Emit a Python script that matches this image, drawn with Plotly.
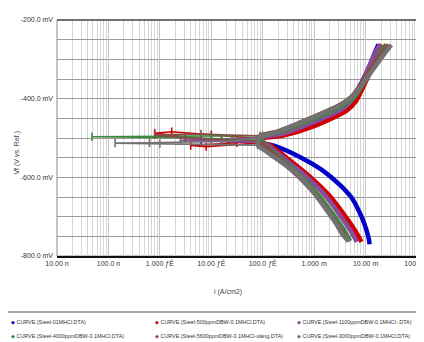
import plotly.graph_objects as go

# ---------------- data (E in V vs Ref, i in A/cm2) ----------------
curve_names = [
    "CURVE (Steel-01MHCl.DTA)",
    "CURVE (Steel-500ppmDBW-0.1MHCl.DTA)",
    "CURVE (Steel-1100ppmDBW-0.1MHCl-.DTA)",
    "CURVE (Steel-4000ppmDBW-0.1MHCl.DTA)",
    "CURVE (Steel-5600ppmDBW-0.1MHCl-ulang.DTA)",
    "CURVE (Steel-3000ppmDBW-0.1MHCl.DTA)",
]
curve_colors = ["#0000c8", "#d00000", "#8a4b9a", "#3d8a3d", "#8b4a4a", "#727272"]

# main branches (cathodic bottom -> Ecorr -> anodic top)
blue_i = [1.20e-2, 1.15e-2, 9.55e-3, 7.59e-3, 5.37e-3, 3.16e-3, 1.41e-3, 5.25e-4, 1.70e-4, 1.0e-4,
          1.0e-4, 2.51e-4, 8.91e-4, 3.55e-3, 5.62e-3, 8.51e-3, 1.17e-2, 1.55e-2, 1.78e-2]
blue_E = [-0.770, -0.755, -0.719, -0.688, -0.652, -0.619, -0.581, -0.548, -0.520, -0.512,
          -0.500, -0.490, -0.463, -0.425, -0.400, -0.357, -0.320, -0.280, -0.262]

red_i = [8.32e-3, 6.17e-3, 3.89e-3, 2.00e-3, 8.91e-4, 3.31e-4, 1.38e-4, 1.0e-4,
         1.0e-4, 2.51e-4, 1.0e-3, 4.17e-3, 6.61e-3, 1.0e-2, 1.35e-2, 1.74e-2, 2.04e-2]
red_E = [-0.764, -0.734, -0.696, -0.647, -0.602, -0.556, -0.518, -0.512,
         -0.502, -0.494, -0.470, -0.432, -0.405, -0.358, -0.320, -0.280, -0.262]

purple_i = [6.76e-3, 5.01e-3, 3.16e-3, 1.66e-3, 7.59e-4, 2.82e-4, 1.26e-4, 1.0e-4,
            1.0e-4, 2.51e-4, 8.91e-4, 3.72e-3, 5.89e-3, 8.71e-3, 1.17e-2, 1.58e-2, 1.91e-2]
purple_E = [-0.764, -0.734, -0.696, -0.647, -0.602, -0.556, -0.518, -0.512,
            -0.499, -0.489, -0.462, -0.424, -0.398, -0.355, -0.318, -0.280, -0.262]

green_i = [5.01e-3, 3.80e-3, 2.40e-3, 1.26e-3, 6.03e-4, 2.40e-4, 1.12e-4, 8.91e-5,
           1.0e-4, 2.24e-4, 7.94e-4, 3.55e-3, 6.31e-3, 1.0e-2, 1.45e-2, 2.00e-2, 2.51e-2]
green_E = [-0.762, -0.734, -0.696, -0.647, -0.602, -0.556, -0.518, -0.506,
           -0.494, -0.484, -0.456, -0.418, -0.393, -0.352, -0.316, -0.280, -0.262]

brown_i = [4.47e-3, 3.31e-3, 2.09e-3, 1.12e-3, 5.37e-4, 2.19e-4, 1.05e-4, 7.94e-5,
           8.91e-5, 2.00e-4, 7.08e-4, 3.16e-3, 5.62e-3, 9.33e-3, 1.41e-2, 2.19e-2, 2.82e-2]
brown_E = [-0.760, -0.734, -0.696, -0.647, -0.602, -0.556, -0.518, -0.508,
           -0.495, -0.483, -0.454, -0.416, -0.392, -0.352, -0.316, -0.280, -0.263]

gray_i = [4.68e-3, 3.55e-3, 2.51e-3, 1.58e-3, 1.0e-3, 5.25e-4, 2.51e-4, 1.0e-4, 7.94e-5,
          8.91e-5, 2.00e-4, 7.08e-4, 3.16e-3, 5.89e-3, 1.0e-2, 1.58e-2, 2.51e-2, 3.16e-2]
gray_E = [-0.762, -0.745, -0.712, -0.675, -0.640, -0.598, -0.565, -0.528, -0.518,
          -0.497, -0.484, -0.455, -0.417, -0.392, -0.352, -0.316, -0.280, -0.263]

# scattered points around the corrosion potential
blue_tip_i = [1.0e-4, 2.51e-5, 6.31e-6, 1.58e-5, 1.0e-4]
blue_tip_E = [-0.512, -0.509, -0.507, -0.504, -0.500]

red_tip_i = [1.0e-4, 7.94e-6, 3.98e-6, 3.16e-5, 7.94e-7, 1.70e-6, 1.0e-5, 1.0e-4]
red_tip_E = [-0.512, -0.522, -0.519, -0.512, -0.488, -0.484, -0.492, -0.502]

purple_tip_i = [1.0e-4, 1.58e-5, 2.51e-6, 1.0e-5, 1.0e-4]
purple_tip_E = [-0.512, -0.508, -0.506, -0.503, -0.499]

green_tip_i = [8.91e-5, 3.16e-6, 4.79e-8, 1.0e-5, 1.0e-4]
green_tip_E = [-0.506, -0.499, -0.497, -0.496, -0.494]

brown_tip_i = [7.94e-5, 3.16e-6, 7.94e-7, 6.31e-6, 8.91e-5]
brown_tip_E = [-0.508, -0.500, -0.492, -0.490, -0.495]

gray_tip_i = [7.94e-5, 1.0e-6, 1.35e-7, 6.31e-7, 2.51e-5, 8.91e-5]
gray_tip_E = [-0.518, -0.514, -0.513, -0.512, -0.508, -0.497]

x_tick_vals = [1e-8, 1e-7, 1e-6, 1e-5, 1e-4, 1e-3, 1e-2, 1e-1]
x_tick_text = ["10.00 n", "100.0 n", "1.000 ƒÊ", "10.00 ƒÊ", "100.0 ƒÊ", "1.000 m", "10.00 m", "100.0 m"]
y_tick_vals = [-0.8, -0.6, -0.4, -0.2]
y_tick_text = ["-800.0 mV", "-600.0 mV", "-400.0 mV", "-200.0 mV"]

# ---------------- figure ----------------
mains = [(blue_i, blue_E), (red_i, red_E), (purple_i, purple_E),
         (green_i, green_E), (brown_i, brown_E), (gray_i, gray_E)]
tips = [(blue_tip_i, blue_tip_E), (red_tip_i, red_tip_E), (purple_tip_i, purple_tip_E),
        (green_tip_i, green_tip_E), (brown_tip_i, brown_tip_E), (gray_tip_i, gray_tip_E)]

FONT = "Liberation Sans Narrow, Arial Narrow, Liberation Sans, Arial, sans-serif"

fig = go.Figure()
for name, col, (xi, ye), (ti, te) in zip(curve_names, curve_colors, mains, tips):
    fig.add_trace(go.Scatter(x=ti, y=te, mode="lines+markers", name=name, legendgroup=name,
                             showlegend=False,
                             line=dict(color=col, width=1.6),
                             marker=dict(symbol="line-ns", size=6,
                                         line=dict(color=col, width=1.6))))
    fig.add_trace(go.Scatter(x=xi, y=ye, mode="lines", name=name, legendgroup=name,
                             showlegend=False,
                             line=dict(color=col, width=4.5, shape="spline", smoothing=0.6)))

minor_x = [k * 10.0 ** n for n in range(-8, -1) for k in range(2, 10)]

fig.update_xaxes(type="log", range=[-8, -1], tickmode="array", tickvals=x_tick_vals,
                 ticktext=x_tick_text, showgrid=True, gridcolor="#c4c4c4", gridwidth=1,
                 minor=dict(tickmode="array", tickvals=minor_x, showgrid=True,
                            gridcolor="#d6d6d6", gridwidth=1),
                 showline=True, linecolor="#111111", linewidth=2, zeroline=False,
                 automargin=False,
                 ticks="", tickfont=dict(family=FONT, size=7, color="#333333"))
fig.update_yaxes(range=[-0.8, -0.2], tickmode="array", tickvals=y_tick_vals,
                 ticktext=y_tick_text, showgrid=True, gridcolor="#9a9a9a", gridwidth=1,
                 minor=dict(dtick=0.05, showgrid=True, gridcolor="#9a9a9a", gridwidth=1),
                 showline=False, zeroline=False, ticks="", ticklabelstandoff=3,
                 automargin=False,
                 tickfont=dict(family=FONT, size=7, color="#333333"))

shapes = [
    dict(type="rect", xref="paper", yref="paper", x0=0, x1=1, y0=0, y1=1,
         line=dict(color="#8a8a8a", width=1), layer="below"),
    dict(type="line", xref="paper", yref="paper", x0=0, x1=1, y0=1, y1=1,
         line=dict(color="#707070", width=2)),
    dict(type="line", xref="paper", yref="paper", x0=-0.158, x1=1.03, y0=-0.237, y1=-0.237,
         line=dict(color="#8a8a8a", width=1.5)),
]

annotations = [
    dict(text="Vf (V vs. Ref.)", xref="paper", yref="paper", x=-0.11, y=0.44,
         textangle=-90, showarrow=False, xanchor="center", yanchor="middle",
         font=dict(family="Liberation Sans, Arial, sans-serif", size=7, color="#444444")),
    dict(text="i (A/cm2)", xref="paper", yref="paper", x=0.475, y=-0.153,
         showarrow=False, xanchor="center", yanchor="middle",
         font=dict(family=FONT, size=7, color="#444444")),
]
leg_x = [-0.134, 0.266, 0.660]
leg_y = [-0.280, -0.340]
for k, (name, col) in enumerate(zip(curve_names, curve_colors)):
    annotations.append(dict(
        text=f'<span style="color:{col}">◆</span> {name}',
        xref="paper", yref="paper", x=leg_x[k % 3], y=leg_y[k // 3],
        showarrow=False, xanchor="left", yanchor="middle",
        font=dict(family=FONT, size=5.4, color="#333333")))

# the page adds an 8 px body margin, so the plot area is laid out 8 px up-left
fig.update_layout(width=424, height=342, margin=dict(l=49, r=15, t=12, b=94),
                  paper_bgcolor="white", plot_bgcolor="white", showlegend=False,
                  shapes=shapes, annotations=annotations)

fig.write_html("out.html")
